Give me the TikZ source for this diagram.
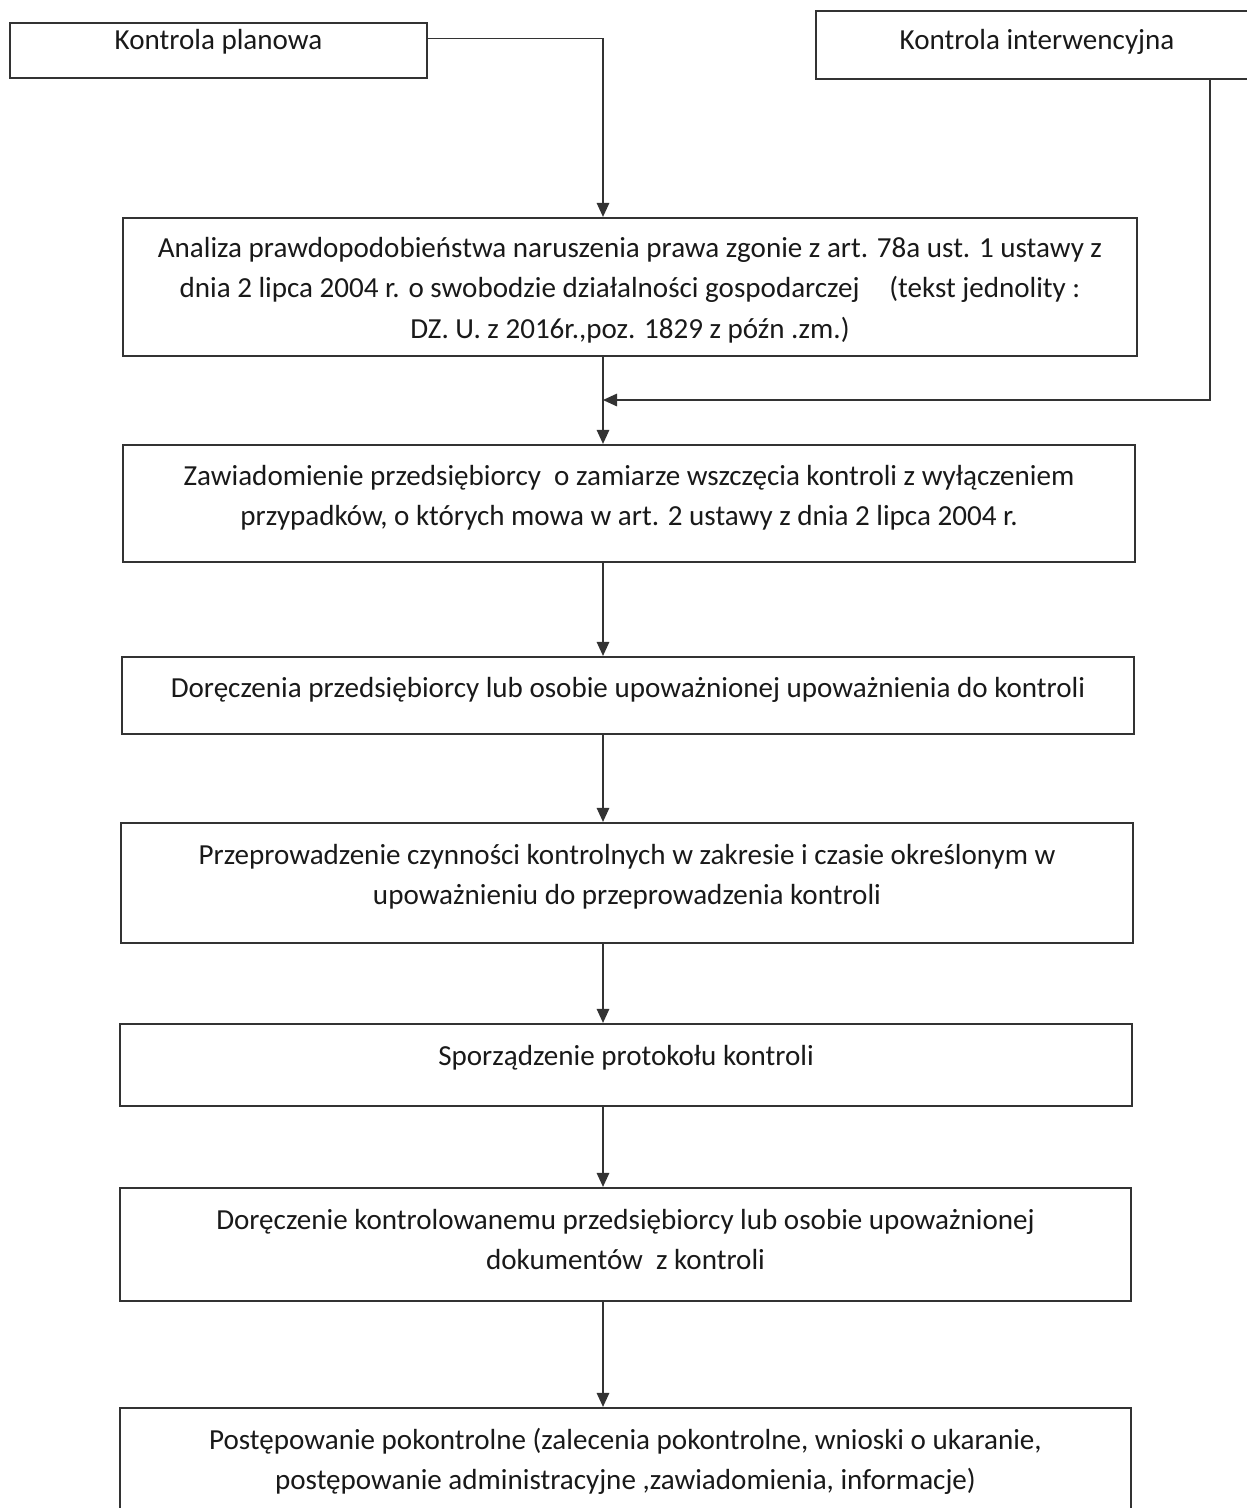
\documentclass[tikz,border=0pt]{standalone}
\usepackage{fontspec}
\setmainfont{Carlito}
\usepackage{tikz}
\usetikzlibrary{positioning, calc, fit, arrows.meta}
\definecolor{ramka}{rgb}{0.2, 0.2, 0.2}

\begin{document}
\begin{tikzpicture}[x=0.02cm, y=-0.02cm,
		etap/.style={draw=ramka, line width=1.25pt, inner sep=0pt},
		tekst/.style={inner sep=0pt, align=center, text=black!90, font=\fontsize{16.55}{23}\selectfont},
		conn/.style={draw=ramka, line width=0.85pt, -{Triangle[length=0.28cm, width=0.25cm]}}]
		\useasboundingbox (0,0) rectangle (1247,1508);
		\clip (0,0) rectangle (1247,1508);
		\coordinate (os) at (603,0);
		\coordinate (prawy) at (1210,0);
		\coordinate (zbieg) at (603,400);
		
		\node (planowa) [etap, fit={(10,23) (427,78)}] {};
		\node (planowa-t) [tekst, below=-0.02cm of planowa.north] {\strut Kontrola planowa};
		\node (interw) [etap, fit={(816,11) (1258,79)}] {};
		\node (interw-t) [tekst, below=0.22cm of interw.north] {\strut Kontrola interwencyjna};
		
		\node (analiza) [etap, fit={(123,218) (1137,356)}] {};
		\node (analiza-t) [tekst, below=0.24cm of analiza.north] {\strut Analiza prawdopodobieństwa naruszenia prawa zgonie z art. 78a ust. 1 ustawy z\\
			dnia 2 lipca 2004 r. o swobodzie działalności gospodarczej\hspace{0.8em} (tekst jednolity :\\
			DZ. U. z 2016r.,poz. 1829 z późn .zm.)};
		\node (zawiadomienie) [etap, fit={(123,445) (1135,562)}] {};
		\node (zawiadomienie-t) [tekst, below=0.26cm of zawiadomienie.north] {\strut Zawiadomienie przedsiębiorcy \ o zamiarze wszczęcia kontroli z wyłączeniem\\
			przypadków, o których mowa w art. 2 ustawy z dnia 2 lipca 2004 r.};
		\node (doreczenia) [etap, fit={(122,657) (1134,734)}] {};
		\node (doreczenia-t) [tekst, below=0.25cm of doreczenia.north] {\strut Doręczenia przedsiębiorcy lub osobie upoważnionej upoważnienia do kontroli};
		\node (czynnosci) [etap, fit={(121,823) (1133,943)}] {};
		\node (czynnosci-t) [tekst, below=0.27cm of czynnosci.north] {\strut Przeprowadzenie czynności kontrolnych w zakresie i czasie określonym w\\
			upoważnieniu do przeprowadzenia kontroli};
		\node (protokol) [etap, fit={(120,1024) (1132,1106)}] {};
		\node (protokol-t) [tekst, below=0.27cm of protokol.north] {\strut Sporządzenie protokołu kontroli};
		\node (dokumenty) [etap, fit={(120,1188) (1131,1301)}] {};
		\node (dokumenty-t) [tekst, below=0.27cm of dokumenty.north] {\strut Doręczenie kontrolowanemu przedsiębiorcy lub osobie upoważnionej\\
			dokumentów \ z kontroli};
		\node (pokontrolne) [etap, fit={(120,1408) (1131,1552)}] {};
		\node (pokontrolne-t) [tekst, below=0.27cm of pokontrolne.north] {\strut Postępowanie pokontrolne (zalecenia pokontrolne, wnioski o ukaranie,\\
			postępowanie administracyjne ,zawiadomienia, informacje)};
		
		\draw[conn] ([yshift=0.24cm]planowa.east) -| (analiza.north -| os);
		\draw[conn] (interw.south -| prawy) |- (zbieg);
		\draw[conn] (analiza.south -| os) -- (zawiadomienie.north -| os);
		\draw[conn] (zawiadomienie.south -| os) -- (doreczenia.north -| os);
		\draw[conn] (doreczenia.south -| os) -- (czynnosci.north -| os);
		\draw[conn] (czynnosci.south -| os) -- (protokol.north -| os);
		\draw[conn] (protokol.south -| os) -- (dokumenty.north -| os);
		\draw[conn] (dokumenty.south -| os) -- (pokontrolne.north -| os);
		\end{tikzpicture}
\end{document}
